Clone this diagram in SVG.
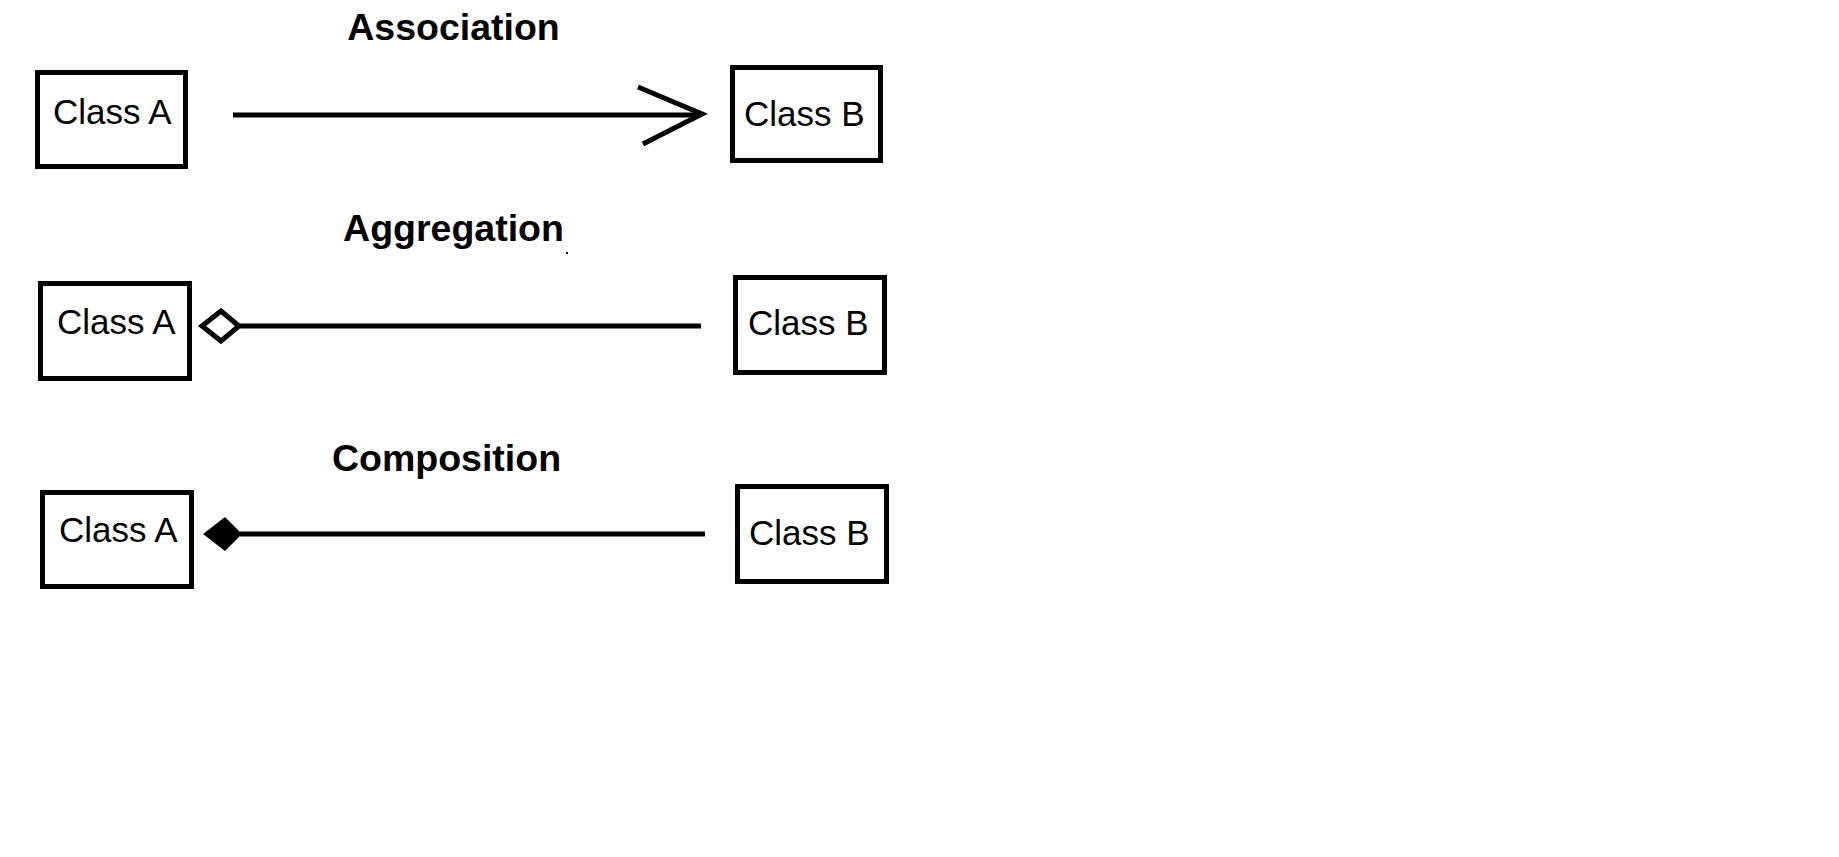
<svg xmlns="http://www.w3.org/2000/svg" width="1839" height="857" viewBox="0 0 1839 857">
<style>
.box{fill:#fff;stroke:#000;stroke-width:5}
.lbl{font-family:"Liberation Sans",Arial,sans-serif;font-size:35px;fill:#000}
.ttl{font-family:"Liberation Sans",Arial,sans-serif;font-size:37.5px;font-weight:bold;fill:#000;text-anchor:middle}
.ln{stroke:#000;stroke-width:5;fill:none}
</style>
<rect width="1839" height="857" fill="#fff"/>
<g id="titles">
<text class="ttl" x="453.5" y="40">Association</text>
<text class="ttl" x="453.5" y="241">Aggregation</text>
<text class="ttl" x="446.5" y="471">Composition</text>
<rect x="566" y="252" width="2" height="2" fill="#000"/>
</g>
<g id="connectors">
<line class="ln" x1="233" y1="115" x2="700" y2="115"/>
<polyline class="ln" points="638,87 702,114 643,144" stroke-linejoin="miter"/>
<line class="ln" x1="240" y1="326" x2="701" y2="326"/>
<polygon points="202,326 221,311 239,326 221,341" fill="#fff" stroke="#000" stroke-width="5"/>
<line class="ln" x1="240" y1="534" x2="705" y2="534"/>
<polygon points="203,534 225,517 242,534 225,551" fill="#000"/>
</g>
<g id="assoc-a"><rect class="box" x="37.5" y="72.5" width="148" height="94"/><text class="lbl" x="53" y="124">Class A</text></g>
<g id="assoc-b"><rect class="box" x="732.5" y="67.5" width="148" height="93"/><text class="lbl" x="744" y="126">Class B</text></g>
<g id="aggr-a"><rect class="box" x="40.5" y="283.5" width="149" height="95"/><text class="lbl" x="57" y="334">Class A</text></g>
<g id="aggr-b"><rect class="box" x="735.5" y="277.5" width="149" height="95"/><text class="lbl" x="748" y="335">Class B</text></g>
<g id="comp-a"><rect class="box" x="42.5" y="492.5" width="149" height="94"/><text class="lbl" x="59" y="542">Class A</text></g>
<g id="comp-b"><rect class="box" x="737.5" y="486.5" width="149" height="95"/><text class="lbl" x="749" y="545">Class B</text></g>
</svg>
